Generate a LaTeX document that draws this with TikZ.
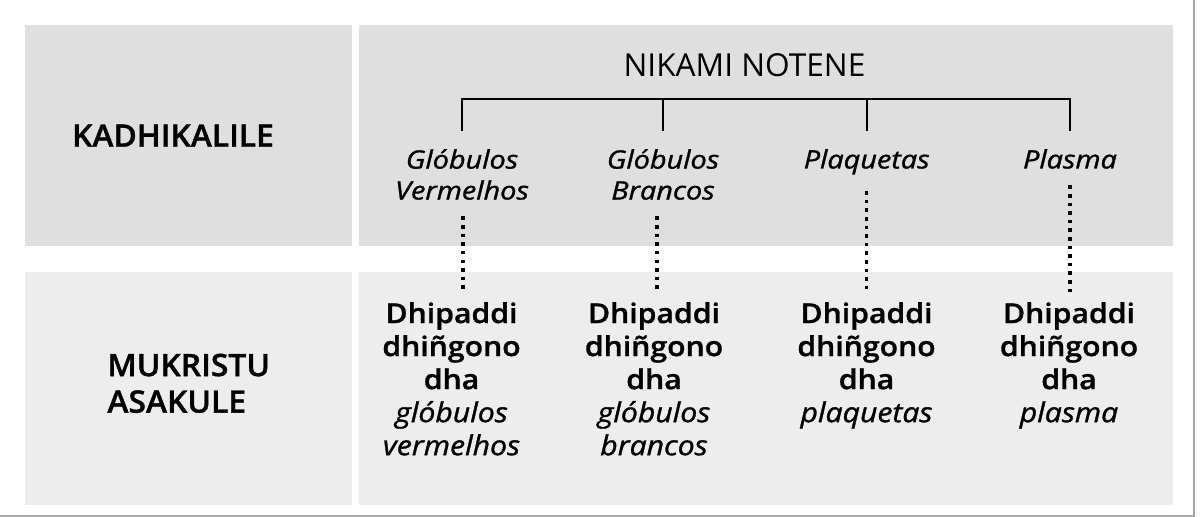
\documentclass[tikz,border=0pt]{standalone}
\usepackage{fontspec}
\setmainfont{Open Sans}[BoldFont={Open Sans Semibold},BoldFeatures={FakeStretch=1.03,FakeBold=1},ItalicFeatures={FakeStretch=1.14,FakeBold=1.2}]
\newfontfamily\cellfont{Open Sans}[BoldFont={Open Sans Semibold},BoldFeatures={FakeStretch=1.1,FakeBold=1},ItalicFeatures={FakeStretch=1.1,FakeBold=1.2}]
\definecolor{topgray}{HTML}{DFDFDF}
\definecolor{lowgray}{HTML}{EDEDED}
\definecolor{framegray}{HTML}{A8A8A8}
\tikzset{
	rowhead/.style={font=\fontsize{8.8}{10.4}\selectfont\bfseries, inner sep=0pt},
	colhead/.style={font=\fontsize{7.2}{8.8}\selectfont\itshape, align=center, inner sep=0pt, anchor=north},
	cell/.style={font=\cellfont\fontsize{7.8}{9.4}\selectfont\bfseries, align=center, inner sep=0pt, anchor=north},
	bracket/.style={line width=0.6pt},
	dotline/.style={line width=1pt, dash pattern=on 1pt off 1.45pt, shorten <=1.6mm, shorten >=0.85mm},
}
\begin{document}
\begin{tikzpicture}
		\useasboundingbox (0,0) rectangle (12,-5.17);
		% panels
		\fill[topgray] (0.25,-0.25) rectangle (3.52,-2.46);
		\fill[topgray] (3.585,-0.25) rectangle (11.73,-2.46);
		\fill[lowgray] (0.25,-2.72) rectangle (3.52,-5.05);
		\fill[lowgray] (3.585,-2.72) rectangle (11.73,-5.05);
		\draw[framegray, line width=0.6pt] (0,-5.165) -- (11.94,-5.165) -- (11.94,0);
		% row heads
		\node[rowhead, anchor=base] (kadhi) at (1.73,-1.467) {KADHIKALILE};
		\node[rowhead, anchor=north west, align=left] (mukri) at (1.067,-3.53) {MUKRISTU\\ASAKULE};
		% top row
		\node[font=\fontsize{9}{10}\selectfont, inner sep=0pt, anchor=base] (nikami) at (7.445,-0.77) {NIKAMI NOTENE};
		\node[colhead] (gv) at (4.62,-1.485) {Glóbulos\\Vermelhos};
		\node[colhead] (gb) at (6.63,-1.485) {Glóbulos\\Brancos};
		\node[colhead] (pq) at (8.667,-1.485) {Plaquetas};
		\node[colhead] (pl) at (10.70,-1.485) {Plasma};
		\coordinate (brk) at (7.66,-0.99);
		\draw[bracket] ([yshift=1.75mm]gv.north) -- (gv.north |- brk) -- (pl.north |- brk) -- ([yshift=1.75mm]pl.north);
		\foreach \n in {gb,pq}
			\draw[bracket] ([yshift=1.75mm]\n.north) -- (\n.north |- brk);
		% bottom row
		\node[cell] (dgv) at (4.515,-3.015) {Dhipaddi\\dhiñgono\\dha\\{\mdseries\itshape glóbulos}\\{\mdseries\itshape vermelhos}};
		\node[cell] (dgb) at (6.54,-3.015) {Dhipaddi\\dhiñgono\\dha\\{\mdseries\itshape glóbulos}\\{\mdseries\itshape brancos}};
		\node[cell] (dpq) at (8.665,-3.015) {Dhipaddi\\dhiñgono\\dha\\{\mdseries\itshape plaquetas}};
		\node[cell] (dpl) at (10.69,-3.015) {Dhipaddi\\dhiñgono\\dha\\{\mdseries\itshape plasma}};
		% dotted links
		\draw[dotline] ([xshift=0.1mm]gv.south) -- ([xshift=0.1mm]gv.south |- dgv.north);
		\draw[dotline] ([xshift=-0.6mm]gb.south) -- ([xshift=-0.6mm]gb.south |- dgb.north);
		\draw[dotline] (pq.south) -- (pq.south |- dpq.north);
		\draw[dotline] (pl.south) -- (pl.south |- dpl.north);
\end{tikzpicture}
\end{document}
